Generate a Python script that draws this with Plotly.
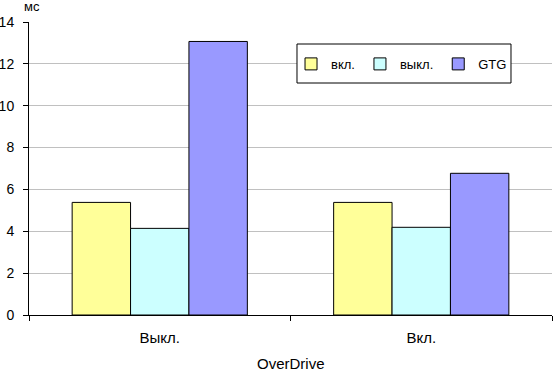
import plotly.graph_objects as go

categories = ["Выкл.", "Вкл."]
series_names = ["вкл.", "выкл.", "GTG"]
vals_vkl = [5.38, 5.38]
vals_vykl = [4.14, 4.19]
vals_gtg = [13.07, 6.77]
colors = ["#FFFF99", "#CCFFFF", "#9999FF"]
y_ticks = [0, 2, 4, 6, 8, 10, 12, 14]

font = "Liberation Sans, Arial, sans-serif"
fig = go.Figure()
for name, vals, col in zip(series_names, [vals_vkl, vals_vykl, vals_gtg], colors):
    fig.add_trace(go.Bar(x=categories, y=vals, name=name,
                         marker=dict(color=col, line=dict(color="black", width=1))))

fig.update_layout(
    width=553, height=371,
    margin=dict(l=29, r=1, t=22, b=56),
    paper_bgcolor="white", plot_bgcolor="white",
    barmode="group", bargap=0.33, bargroupgap=0,
    font=dict(family=font, size=14, color="black"),
    showlegend=True,
    legend=dict(orientation="h", x=0.501, y=0.908, xanchor="left", yanchor="top",
                bgcolor="rgba(0,0,0,0)", borderwidth=0,
                font=dict(size=13), traceorder="normal"),
    xaxis=dict(showline=True, linecolor="black", linewidth=1,
               ticks="outside", tickson="boundaries", ticklen=5, tickcolor="black",
               showgrid=False, automargin=False, tickfont=dict(size=15),
               ticklabelstandoff=9, fixedrange=True),
    yaxis=dict(range=[0, 14], tickvals=y_ticks, showline=True, linecolor="black",
               linewidth=1, ticks="outside", ticklen=5, tickcolor="black",
               showgrid=True, gridcolor="#C0C0C0", gridwidth=1, zeroline=False,
               automargin=False, tickfont=dict(size=14), ticklabelstandoff=6,
               fixedrange=True),
)
# legend box
fig.add_shape(type="rect", xref="paper", yref="paper",
              x0=0.5124, x1=0.9216, y0=0.7918, y1=0.9249,
              fillcolor="white", line=dict(color="black", width=1), layer="above")
fig.add_annotation(text="мс", xref="paper", yref="paper", x=0.006, y=1.0546,
                   xanchor="center", yanchor="middle", showarrow=False,
                   font=dict(size=13))
fig.add_annotation(text="OverDrive", xref="paper", yref="paper", x=0.5, y=-0.167,
                   xanchor="center", yanchor="middle", showarrow=False,
                   font=dict(size=15))
fig.write_html("out.html", config={"displayModeBar": False},
               post_script="document.body.style.margin='0';document.body.style.padding='0';")
